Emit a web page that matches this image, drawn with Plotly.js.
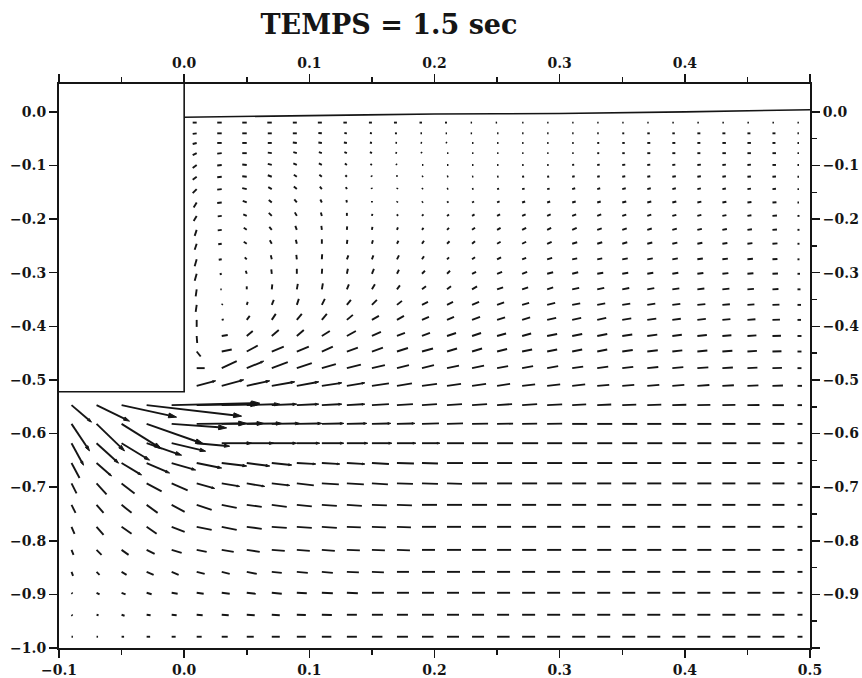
<!DOCTYPE html>
<html>
<head>
<meta charset="utf-8">
<script src="https://cdn.plot.ly/plotly-3.0.1.min.js"></script>
<style>html,body{margin:0;padding:0;background:#fff;}#chart{width:862px;height:678px;}</style>
</head>
<body>
<div id="chart"></div>
<script>
const N = null;
// grid columns (x) and rows (y)
const X = [-0.09,-0.07,-0.05,-0.03,-0.01,0.01,0.03,0.05,0.07,0.09,0.11,0.13,0.15,0.17,0.19,0.21,0.23,0.25,0.27,0.29,0.31,0.33,0.35,0.37,0.39,0.41,0.43,0.45,0.47,0.49];
const Y = [-0.020,-0.040,-0.058,-0.077,-0.099,-0.121,-0.144,-0.169,-0.194,-0.220,-0.246,-0.275,-0.302,-0.331,-0.360,-0.388,-0.418,-0.447,-0.478,-0.511,-0.547,-0.582,-0.618,-0.655,-0.693,-0.733,-0.774,-0.817,-0.858,-0.897,-0.938,-0.979];
// horizontal velocity component (row by row)
const U = [
[N,N,N,N,N,-4,-4.5,-4.5,-4.5,-4,-4,-3.5,-3,-3,-2.5,-2,-1,-0.5,0.5,0.5,0.5,1,1,1,1.5,1.5,1.5,1.5,1.5,1],
[N,N,N,N,N,-4,-4.5,-4.5,-4,-4,-3.5,-2.5,-2,-2,-1.5,-1,-0.5,0.3,0.5,1,1,1.5,2,2.5,2.5,3,3,3,3,1],
[N,N,N,N,N,-4,-4.5,-4.5,-4,-4,-3.5,-3,-2,-1.5,-1,-0.5,0,0.3,0.5,0.5,1.5,2,2.5,3,3,3,3.5,3.5,3,1.5],
[N,N,N,N,N,-4,-4.5,-4.5,-4,-3.5,-3,-2.5,-2,-1.5,-0.5,0,0.5,0.5,1,1,1.5,2,2.5,3,3,3,3.5,3.5,3.5,1.5],
[N,N,N,N,N,-4,-4.5,-4.5,-4,-3.5,-3,-2,-1.5,-0.5,0,0.3,0.5,1,1.5,1.5,2,2.5,3,3,3,3.5,3.5,3.5,3.5,1.5],
[N,N,N,N,N,-4,-4.5,-4.5,-4,-3,-2.5,-1.5,-0.5,0,0.3,0.5,1,1.5,2,2,2.5,2.5,3,3,3.5,3.5,3.5,3.5,3.5,1.5],
[N,N,N,N,N,-4,-4.5,-4.5,-3.5,-3,-2,-1,-0.3,0.3,0.5,1,1.5,2,2.5,2.5,3,3,3.5,3.5,3.5,3.5,3.5,3.5,3.5,1.5],
[N,N,N,N,N,-3,-4.5,-4,-3,-2.5,-1.5,-0.5,0,0.5,1,1.5,2,2.5,3,3,3.5,3.5,4,4,4,4,4,4,4,1.5],
[N,N,N,N,N,-3,-4,-3.5,-3,-2,-1,0,0.5,1,1.5,2,2.5,3,3.5,3.5,4,4,4,4,4,4,4,4,4.5,2],
[N,N,N,N,N,-2,-4,-3,-2.5,-1.5,-0.5,0.3,0.5,1,1.5,2,3,3.5,4,4,4.5,4.5,4.5,4.5,4.5,4.5,4.5,4.5,4.5,2],
[N,N,N,N,N,-2,-3.5,-3,-2,-1,0,0.5,1,1.5,2,2.5,3,3.5,4,4.5,5,5,5,5,5,5,5,5,5,2],
[N,N,N,N,N,-2,-3,-2,-1,-0.5,0.3,1.5,1.5,2,2,2,3,4,4,5,5,5,5.5,5.5,5.5,5.5,5.5,5.5,5,2],
[N,N,N,N,N,-2,-2,-1,-0.5,0,0.3,1,2,2,3,3,4,5,5,6,6,6,6,6,6,6,6,6,5.5,2.5],
[N,N,N,N,N,-1,-0.5,0,0.5,1,1,2,3,3,4,4,5,6,6,6,7,7,7,7,7,7,7,6.5,6,3],
[N,N,N,N,N,-1,0.5,1,2,2,3,4,5,5,6,6,7,7,7,8,8,8,8,8,8,8,7.5,7,7,3.5],
[N,N,N,N,N,0,2,3,4,5,5,6,7,7,7,7,8,8,8,9,9,9,9,9,8.5,8.5,8,8,7.5,3.5],
[N,N,N,N,N,0.5,6,6,7,7,8,9,9,8,8,9,9,9,9,10,10,10,10,10,9.5,9.5,9,9,8.5,4],
[N,N,N,N,N,4,10,11,12,12,11,11,11,11,11,10,10,10,10,10,10,10,10.5,10.5,10,10,10,9.5,9,4],
[N,N,N,N,N,8,15,17,16,15,14,14,13,12,12,12,12,11,11,11,11,11,11,11,11,11,10.5,10,9.5,4],
[N,N,N,N,N,19,22,23,23,22,20,18,17,15,15,14,14,13,13,13,13,12,12,12,12,12,11.5,11,10.5,4.5],
[20,33,55,95,88,62,38,33,25,22,20,18,17,16,15,15,15,15,15,15,14,14,14,14,14,13,13,12,11.5,4.5],
[18,28,40,57,55,50,42,35,28,25,22,20,19,18,17,16,16,16,15,15,15,15,15,14,14,14,13,13,12,5],
[12,22,28,35,34,33,30,27,25,23,22,21,20,19,18,17,16,16,16,15,15,15,15,15,14,14,14,13,12,5],
[8,15,20,23,24,25,25,23,20,19,18,18,17,17,16,16,16,15,15,15,15,15,15,14,14,14,14,13,12,5],
[5,10,13,15,16,18,18,18,18,17,17,17,16,16,16,15,15,15,15,15,14,14,14,14,14,14,13,13,12,5],
[4,7,10,11,13,15,15,15,15,15,15,15,15,15,15,15,15,14,14,14,14,14,14,14,14,14,13,13,12,5],
[3,7,10,10,13,15,15,15,15,15,15,14,14,14,14,14,14,14,14,14,13,13,13,13,13,13,13,13,12,5],
[2,5,7,8,10,10,12,13,13,13,13,13,13,13,13,14,14,14,14,14,14,14,14,14,14,14,13,13,12,5],
[1.5,3,5,7,7,8,8,10,10,11,11,12,12,12,13,13,13,13,13,13,13,13,13,13,13,13,13,13,12,5],
[1,3,4,5,6,7,8,9,10,10,11,11,12,12,12,12,13,13,13,13,13,13,13,13,13,13,13,13,12,5],
[0.5,2,3,4,5,6,7,8,8,9,10,10,11,11,12,12,12,12,13,13,13,13,13,13,13,13,13,13,12,5],
[0.5,1.5,2.5,3.5,4,5,6,7,8,9,9.5,10,10.5,11,11.5,12,12,12.5,13,13,13,13,13,13,13,13,13,13,12,5]
];
// vertical velocity component (positive upward)
const V = [
[N,N,N,N,N,0,0,0,0,0,0,0,0,0,0,0,0,0,0,0,0,0,0,0,0,0,0,0,0,0],
[N,N,N,N,N,-0.5,0,0,0,0,0.3,0.3,0.3,0,0,0,0,0,0,0,0,0,0,0,0,0,0,0,0,0],
[N,N,N,N,N,-1,0,0,0,0.5,0.5,0.5,0.5,0.3,0.3,0.3,0,0,0,0,0,0,0,0,0,0,0,0,0,0],
[N,N,N,N,N,-2,-0.5,0,0.5,1,1,1,1,0.5,0.5,0,0,0,0,0,0,0,0,0,0,0,0,0,0,0],
[N,N,N,N,N,-3,-0.5,0.5,1,1.5,1.5,1.5,1,0.5,0,0,0,0,0,0,0.3,0.3,0.3,0.3,0.3,0.3,0.3,0.3,0,0],
[N,N,N,N,N,-3,-0.5,0.5,1.5,2,2,1.5,1,0.3,0.2,0.2,0.3,0.3,0.3,0.3,0.5,0.5,0.5,0.5,0.5,0.5,0.5,0.3,0.3,0],
[N,N,N,N,N,-4,-0.5,1,2,2.5,2.5,2,1,0.5,0.5,0.5,0.5,0.5,0.5,0.5,0.8,0.8,0.8,0.8,0.8,0.7,0.6,0.5,0.3,0],
[N,N,N,N,N,-5,-0.5,1.5,2.5,3,3,2.5,1.5,1,1,1,1,1,1,1,1,1,1,1,1,0.8,0.7,0.5,0.3,0],
[N,N,N,N,N,-5,-0.5,1.5,3,3.5,3.5,3,2,1.5,1.5,1.5,1.5,1.5,1.5,1.5,1.5,1.5,1.3,1.2,1,1,0.8,0.6,0.4,0],
[N,N,N,N,N,-6,-0.5,2,3,4,4,3.5,3,2.5,2,2,2,2,2,2,2,1.5,1.5,1.3,1.2,1,0.8,0.6,0.4,0],
[N,N,N,N,N,-6,-0.5,2,3.5,4,4.5,4,3.5,3,3,2.5,2.5,2,2,2,1.5,1.5,1.5,1.3,1.2,1,0.8,0.6,0.4,0],
[N,N,N,N,N,-7,-0.5,2,4,4.5,5,4,4,4,3,2,2,2,1.5,1.5,1,1,1,1,1,0.8,0.7,0.5,0.3,0],
[N,N,N,N,N,-7,-0.5,3,4.5,5,5,5,5,4,3,3,2,2,2,1.5,1.5,1,1,1,1,0.8,0.7,0.5,0.3,0],
[N,N,N,N,N,-7,0,3,5,5.5,6,5,5,4,3,3,3,2,2,2,1.5,1.5,1.3,1.2,1,0.8,0.7,0.5,0.3,0],
[N,N,N,N,N,-7,0.5,3,5,6,6,5,5,4,3,3,3,2.5,2,2,1.5,1.5,1.3,1.2,1,0.8,0.7,0.5,0.3,0],
[N,N,N,N,N,-7,0.5,4,6,6,6,5,4,4,3,3,3,2.5,2.5,2,2,2,1.5,1.3,1.2,1,0.8,0.6,0.3,0],
[N,N,N,N,N,-7,1,5,6,6,5,5,4,3,3,3,3,2.5,2.5,2,2,2,1.5,1.3,1.2,1,0.8,0.6,0.3,0],
[N,N,N,N,N,-5,2,6,5,5,5,4,4,3.5,3,3,3,2.5,2,2,2,2,1.5,1.3,1.2,1,0.8,0.6,0.3,0],
[N,N,N,N,N,0,7,7,6,5,4,3.5,3,3,3,2.5,2.5,2,2,2,1.5,1.5,1.3,1.2,1,0.8,0.7,0.5,0.3,0],
[N,N,N,N,N,5,6,5,4,4,3,3,2.5,2.5,2,2,2,2,1.5,1.5,1.5,1,1,1,1,0.8,0.6,0.5,0.3,0],
[-17,-16,-12,-11,2,1,1,1,1,1,1,1,1,1,1,1,1,1,1,0.8,0.8,0.6,0.5,0.5,0.4,0.3,0.3,0.2,0,0],
[-27,-27,-25,-20,-4,0.5,0.5,0.5,0.5,0.5,0.5,0.5,0.5,0.5,0.5,0.5,0.3,0.3,0.3,0.3,0,0,0,0,0,0,0,0,0,0],
[-22,-20,-17,-12,-8,-3,0,0,0,0,0,0,0,0,0,0,0,0,0,0,0,0,0,0,0,0,0,0,0,0],
[-15,-13,-12,-10,-7,-5,-3,-3,-2,-1,-1,-1,-1,-0.5,-0.5,0,0,0,0,0,0,0,0,0,0,0,0,0,0,0],
[-10,-11,-10,-8,-7,-5,-3,-3,-2,-2,-1,-1,-1,-0.5,-0.5,-0.5,0,0,0,0,0,0,0,0,0,0,0,0,0,0],
[-8,-8,-8,-8,-7,-5,-3,-2,-2,-1.5,-1,-1,-0.5,-0.5,0,0,0,0,0,0,0,0,0,0,0,0,0,0,0,0],
[-7,-8,-7,-7,-5,-3,-3,-2,-1,-1,-1,-0.5,-0.5,-0.5,0,0,0,0,0,0,0,0,0,0,0,0,0,0,0,0],
[-5,-5,-5,-4,-3,-2,-2,-2,-1,-1,-1,-0.5,-0.5,-0.5,0,0,0,0,0,0,0,0,0,0,0,0,0,0,0,0],
[-4,-3,-3,-3,-3,-2,-2,-2,-1,-1,-1,-0.5,-0.5,0,0,0,0,0,0,0,0,0,0,0,0,0,0,0,0,0],
[-1,-1.5,-1.5,-1.5,-1,-1,-1,-1,-1,-0.5,-0.5,-0.5,0,0,0,0,0,0,0,0,0,0,0,0,0,0,0,0,0,0],
[-0.5,-0.5,-1,-0.5,-0.5,-0.5,-0.5,-0.5,-0.5,-0.3,-0.3,0,0,0,0,0,0,0,0,0,0,0,0,0,0,0,0,0,0,0],
[0,0,0,0,0,0,0,0,0,0,0,0,0,0,0,0,0,0,0,0,0,0,0,0,0,0,0,0,0,0]
];
// free surface and body outline
const SURF_X = [0.0, 0.1, 0.2, 0.3, 0.4, 0.5];
const SURF_Y = [-0.010, -0.007, -0.004, -0.003, 0.000, 0.004];
const BODY_X = [0.0, 0.0, -0.1];
const BODY_Y = [0.052, -0.522, -0.522];
// axis ticks
const XT = [-0.1, 0.0, 0.1, 0.2, 0.3, 0.4, 0.5];
const XT_BOTTOM = ['\u22120.1','0.0','0.1','0.2','0.3','0.4','0.5'];
const XT_TOP = ['','0.0','0.1','0.2','0.3','0.4',''];
const XM = [-0.05, 0.05, 0.15, 0.25, 0.35, 0.45];
const YT = [0.0,-0.1,-0.2,-0.3,-0.4,-0.5,-0.6,-0.7,-0.8,-0.9,-1.0];
const YT_LEFT = ['0.0','\u22120.1','\u22120.2','\u22120.3','\u22120.4','\u22120.5','\u22120.6','\u22120.7','\u22120.8','\u22120.9','\u22121.0'];
const YT_RIGHT = ['0.0','\u22120.1','\u22120.2','\u22120.3','\u22120.4','\u22120.5','\u22120.6','\u22120.7','\u22120.8','\u22120.9',''];
const YM = [-0.05,-0.15,-0.25,-0.35,-0.45,-0.55,-0.65,-0.75,-0.85,-0.95];

const XR = [-0.1, 0.5], YR = [-1.0, 0.052];
const M = {l:59, r:52, t:84, b:30}, W = 862, H = 678;
const kx = (XR[1]-XR[0]) / (W - M.l - M.r);   // data units per px, x
const ky = (YR[1]-YR[0]) / (H - M.t - M.b);   // data units per px, y

const lx = [], ly = [], hx = [], hy = [];
for (let r = 0; r < Y.length; r++) {
  for (let c = 0; c < X.length; c++) {
    let u = U[r][c], v = V[r][c];
    if (u === null || v === null) continue;
    let L = Math.hypot(u, v);
    let ex = 1, ey = 0;
    if (L > 0) { ex = u / L; ey = v / L; }
    const Ld = Math.max(L, 1.4);
    const x0 = X[c], y0 = Y[r];
    const tipx = ex * Ld, tipy = ey * Ld;
    if (Ld < 18) {
      lx.push(x0, x0 + tipx * kx, null);
      ly.push(y0, y0 + tipy * ky, null);
      continue;
    }
    const hl = Math.min(8, 0.16 * Ld);
    const hw = hl * 0.3;
    const bx = ex * (Ld - hl), by = ey * (Ld - hl);
    const px = -ey, py = ex;
    lx.push(x0, x0 + bx * kx, null);
    ly.push(y0, y0 + by * ky, null);
    hx.push(x0 + tipx * kx, x0 + (bx + px * hw) * kx, x0 + (bx - px * hw) * kx, x0 + tipx * kx, null);
    hy.push(y0 + tipy * ky, y0 + (by + py * hw) * ky, y0 + (by - py * hw) * ky, y0 + tipy * ky, null);
  }
}

const INK = '#151515';
const traces = [
  {type:'scatter', mode:'lines', x:lx, y:ly, line:{color:INK, width:1.9}, hoverinfo:'skip', connectgaps:false},
  {type:'scatter', mode:'lines', x:hx, y:hy, fill:'toself', fillcolor:INK, line:{color:INK, width:1}, hoverinfo:'skip', connectgaps:false},
  {type:'scatter', mode:'lines', x:SURF_X, y:SURF_Y, line:{color:INK, width:1.6, shape:'spline'}, hoverinfo:'skip'},
  {type:'scatter', mode:'lines', x:BODY_X, y:BODY_Y, line:{color:INK, width:1.6}, hoverinfo:'skip'},
  {type:'scatter', mode:'markers', x:[0.2], y:[-0.5], xaxis:'x2', yaxis:'y2', marker:{opacity:0}, hoverinfo:'skip'}
];

const tf = {family:'DejaVu Serif', size:14, color:INK, weight:'bold'};
const base = {showline:true, linewidth:2, linecolor:INK, ticks:'outside', ticklen:8, tickwidth:1.5, tickcolor:INK,
  tickmode:'array', tickfont:tf, showgrid:false, zeroline:false, fixedrange:true};

const layout = {
  width:W, height:H, margin:M, paper_bgcolor:'#fff', plot_bgcolor:'#fff', showlegend:false,
  title:{text:'TEMPS = 1.5 sec', font:{family:'DejaVu Serif', size:27, color:INK, weight:'bold'},
    xref:'container', x:389/862, xanchor:'center', yref:'container', y:1-25/678, yanchor:'middle'},
  xaxis:Object.assign({}, base, {range:XR, tickvals:XT, ticktext:XT_BOTTOM,
    minor:{tickmode:'array', tickvals:XM, ticks:'outside', ticklen:5, tickwidth:1.5, tickcolor:INK, showgrid:false}}),
  yaxis:Object.assign({}, base, {range:YR, tickvals:YT, ticktext:YT_LEFT}),
  xaxis2:Object.assign({}, base, {range:XR, overlaying:'x', side:'top', anchor:'y2', tickvals:XT, ticktext:XT_TOP,
    minor:{tickmode:'array', tickvals:XM, ticks:'outside', ticklen:5, tickwidth:1.5, tickcolor:INK, showgrid:false}}),
  yaxis2:Object.assign({}, base, {range:YR, overlaying:'y', side:'right', anchor:'x2', tickvals:YT, ticktext:YT_RIGHT,
    minor:{tickmode:'array', tickvals:YM, ticks:'outside', ticklen:5, tickwidth:1.5, tickcolor:INK, showgrid:false}})
};

Plotly.newPlot('chart', traces, layout, {displayModeBar:false, staticPlot:true});
</script>
</body>
</html>
